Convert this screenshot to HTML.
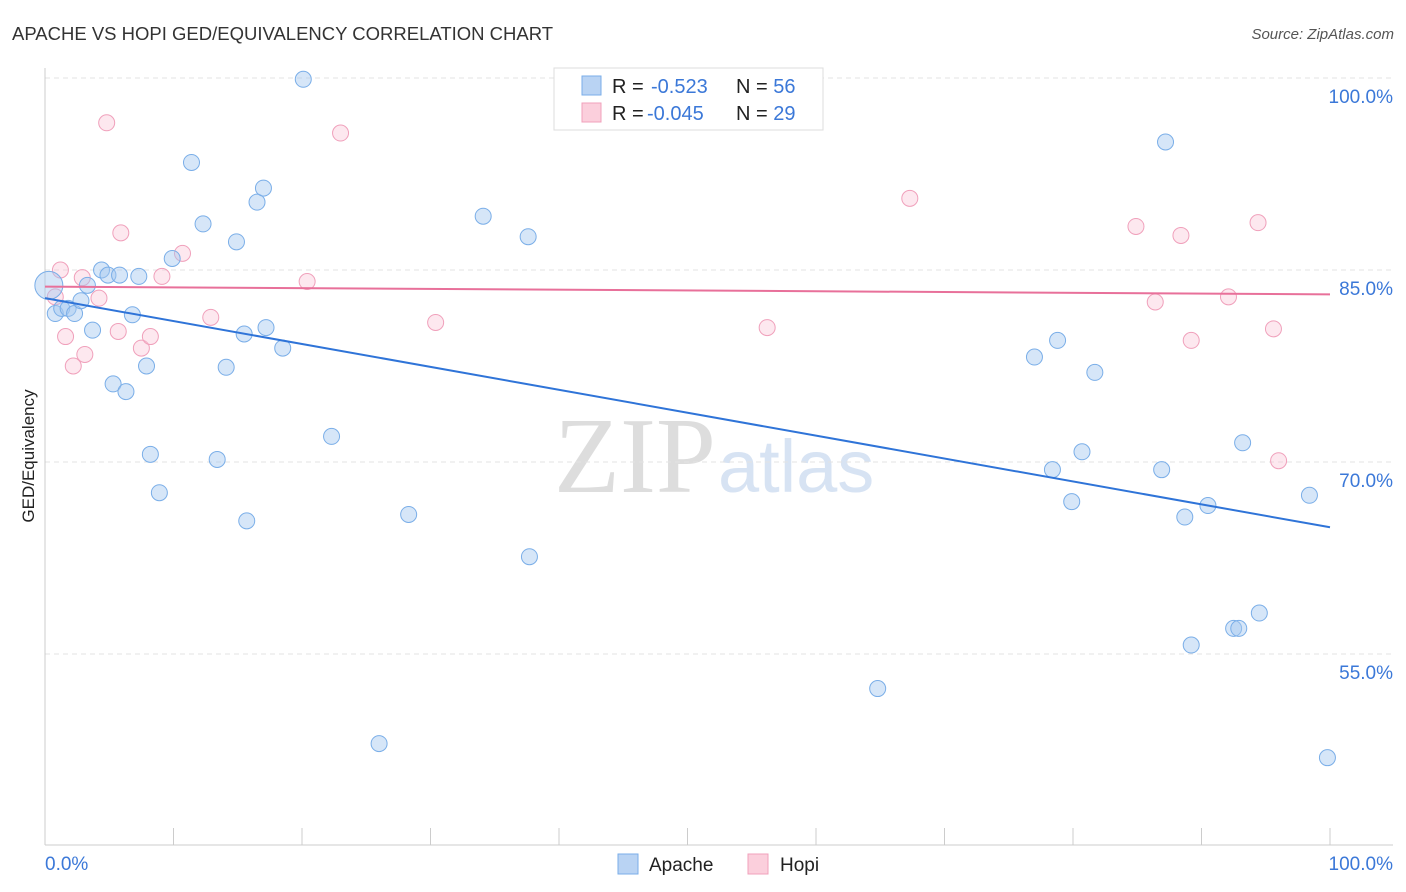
<!DOCTYPE html>
<html><head><meta charset="utf-8"><style>
body{margin:0;background:#fff;font-family:"Liberation Sans",sans-serif;}
svg{display:block}
</style></head><body>
<svg width="1406" height="892" id="chart">
<text x="12" y="40" font-size="18.5" fill="#333">APACHE VS HOPI GED/EQUIVALENCY CORRELATION CHART</text>
<text x="1394" y="39" font-size="15" fill="#555" font-style="italic" text-anchor="end">Source: ZipAtlas.com</text>
<text x="716" y="492" font-size="108" fill="#ddd" font-family="Liberation Serif,serif" text-anchor="end">ZIP</text>
<text x="718" y="492" font-size="74" fill="#d7e3f3">atlas</text>
<text transform="translate(34,456) rotate(-90)" font-size="17" fill="#222" text-anchor="middle">GED/Equivalency</text>
<g id="grid"></g><g id="axes"></g><g id="marks"></g>
<g>
<rect x="554" y="68" width="269" height="62" fill="#fff" stroke="#ddd"/>
<rect x="582" y="76" width="19" height="19" fill="#b9d3f3" stroke="#7aaee8"/>
<rect x="582" y="103" width="19" height="19" fill="#fbcfdc" stroke="#f0a0bb"/>
<text x="612" y="93" font-size="20" fill="#222">R = <tspan x="651" fill="#3b78d8">-0.523</tspan><tspan x="736">N = </tspan><tspan fill="#3b78d8">56</tspan></text>
<text x="612" y="120" font-size="20" fill="#222">R = <tspan x="647" fill="#3b78d8">-0.045</tspan><tspan x="736">N = </tspan><tspan fill="#3b78d8">29</tspan></text>
</g>
<g>
<rect x="618" y="854" width="20" height="20" fill="#b9d3f3" stroke="#7aaee8"/>
<text x="649" y="871" font-size="19" fill="#222">Apache</text>
<rect x="748" y="854" width="20" height="20" fill="#fbcfdc" stroke="#f0a0bb"/>
<text x="780" y="871" font-size="19" fill="#222">Hopi</text>
</g>
</svg>
<script>
const yTicks=[55,70,85,100];
const yTickLabels=["55.0%","70.0%","85.0%","100.0%"];
const xTickLabels=["0.0%","100.0%"];
const apacheX=[0.8,1.3,1.8,2.3,2.8,3.3,3.7,4.4,4.9,5.8,7.3,6.8,5.3,6.3,7.9,8.2,8.9,9.9,11.4,12.3,13.4,14.1,14.9,15.5,15.7,16.5,17.0,17.2,18.5,20.1,22.3,26.0,28.3,34.1,37.6,37.7,64.8,77.0,78.4,78.8,79.9,80.7,81.7,86.9,87.2,88.7,89.2,90.5,92.5,92.9,93.2,94.5,98.4,99.8];
const apacheY=[81.6,82.0,82.0,81.6,82.6,83.8,80.3,85.0,84.6,84.6,84.5,81.5,76.1,75.5,77.5,70.6,67.6,85.9,93.4,88.6,70.2,77.4,87.2,80.0,65.4,90.3,91.4,80.5,78.9,99.9,72.0,48.0,65.9,89.2,87.6,62.6,52.3,78.2,69.4,79.5,66.9,70.8,77.0,69.4,95.0,65.7,55.7,66.6,57.0,57.0,71.5,58.2,67.4,46.9];
const hopiX=[0.8,1.2,1.6,2.2,2.9,3.1,4.2,4.8,5.7,5.9,7.5,8.2,9.1,10.7,12.9,20.4,23.0,30.4,56.2,67.3,84.9,86.4,88.4,89.2,92.1,94.4,95.6,96.0];
const hopiY=[82.9,85.0,79.8,77.5,84.4,78.4,82.8,96.5,80.2,87.9,78.9,79.8,84.5,86.3,81.3,84.1,95.7,80.9,80.5,90.6,88.4,82.5,87.7,79.5,82.9,88.7,80.4,70.1];
const apacheTrend=[82.8,64.9];
const hopiTrend=[83.7,83.1];
const NS="http://www.w3.org/2000/svg";
const sx=v=>45+v*12.85, sy=v=>270-(v-85)*12.8;
function mk(tag,attrs,parent){const e=document.createElementNS(NS,tag);for(const k in attrs)e.setAttribute(k,attrs[k]);document.getElementById(parent).appendChild(e);return e;}
yTicks.forEach((t,i)=>{
  const l=mk('line',{x1:45,x2:1393,y1:sy(t),y2:sy(t),stroke:'#e3e3e3','stroke-dasharray':'5,4'},'grid');
  
  
  const tx=mk('text',{x:1393,y:sy(t)+25,'font-size':19,fill:'#3b78d8','text-anchor':'end'},'grid');
  tx.textContent=yTickLabels[i];
  
  
});
const ax=mk('line',{x1:45,x2:45,y1:68,y2:845,stroke:'#ccc'},'axes');


const bx=mk('line',{x1:45,x2:1393,y1:845,y2:845,stroke:'#ccc'},'axes');


for(let i=0;i<=10;i++){
  const t=mk('line',{x1:sx(i*10),x2:sx(i*10),y1:828,y2:845,stroke:'#ccc'},'axes');
  
  
}
[[0,'start',45],[100,'end',1393]].forEach((d,i)=>{
  const tx=mk('text',{x:d[2],y:870,'font-size':19,fill:'#3b78d8','text-anchor':d[1]},'axes');
  tx.textContent=xTickLabels[i];
  
  
});
function pts(X,Y,fill,stroke,name){X.forEach((x,i)=>{
  const c=mk('circle',{cx:sx(x),cy:sy(Y[i]),r:8,fill:fill,stroke:stroke,'stroke-width':1},'marks');
  
  
});}
pts(hopiX,hopiY,'rgba(248,190,210,0.35)','#f0a0bb','hopi-point');
pts(apacheX,apacheY,'rgba(165,200,240,0.45)','#7aaee8','apache-point');
const b1=mk('circle',{cx:sx(0.3),cy:sy(83.8),r:14,fill:'rgba(165,200,240,0.45)',stroke:'#7aaee8'},'marks');


const t1=mk('line',{x1:sx(0),x2:sx(100),y1:sy(apacheTrend[0]),y2:sy(apacheTrend[1]),stroke:'#2f74d8','stroke-width':2},'marks');


const t2=mk('line',{x1:sx(0),x2:sx(100),y1:sy(hopiTrend[0]),y2:sy(hopiTrend[1]),stroke:'#e8709a','stroke-width':2},'marks');


</script>
</body></html>
